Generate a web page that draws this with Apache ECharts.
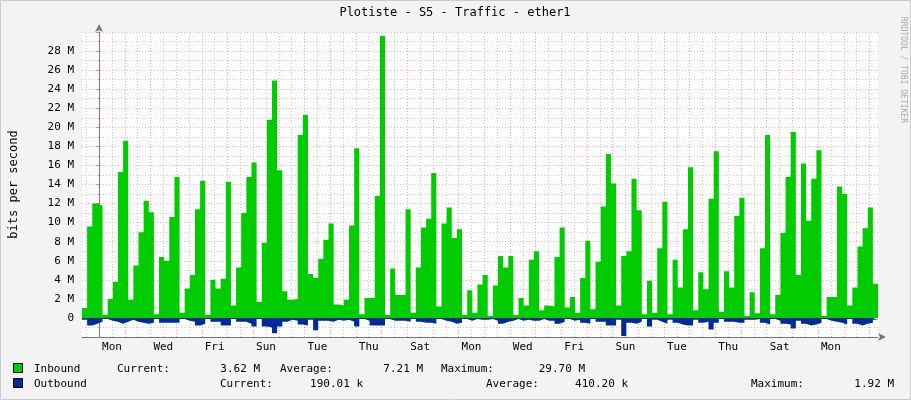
<!DOCTYPE html>
<html>
<head>
<meta charset="utf-8">
<script src="https://cdn.jsdelivr.net/npm/echarts@6/dist/echarts.min.js"></script>
<style>
  html, body { margin: 0; padding: 0; background: #f3f3f3; }
  #chart { width: 911px; height: 400px; }
</style>
</head>
<body>
<div id="chart"></div>
<script>
// 4.8 hour steps, first step starts 16 h before the first midnight (a Monday)
const stepHours = 4.8;
const startHour = -16;

// Inbound, M bits/s
const inbound = [
  1.05, 9.6, 12.0, 11.8, 0.3, 2.0, 3.8, 15.3, 18.6, 1.9, 5.5, 9.0, 12.3, 11.1, 0.4, 6.4, 6.0, 10.6, 14.8, 0.55, 3.1, 4.5, 11.4, 14.4, 0.3, 4.0,
  3.1, 4.1, 14.3, 1.3, 5.3, 11.0, 14.8, 16.3, 1.7, 7.9, 20.8, 24.9, 15.5, 2.8, 1.9, 2.0, 19.2, 21.3, 4.6, 4.2, 6.2, 8.2, 9.9, 1.4, 1.3, 1.9,
  9.7, 17.8, 0.4, 2.1, 2.1, 12.8, 29.6, 0.3, 5.2, 2.4, 2.4, 11.4, 0.55, 5.3, 9.5, 10.4, 15.2, 1.2, 9.9, 11.6, 8.4, 9.3, 0.3, 2.9, 0.55,
  3.5, 4.5, 0.2, 3.4, 6.5, 5.3, 6.5, 0.3, 2.1, 1.3, 6.1, 7.0, 0.8, 1.3, 1.2, 6.4, 9.5, 1.1, 2.2, 0.55, 4.2, 8.1, 0.9, 5.9, 11.7, 17.2,
  14.1, 1.3, 6.5, 7.0, 14.6, 11.3, 0.4, 3.9, 0.55, 7.3, 12.2, 0.4, 6.1, 3.2, 9.3, 15.8, 0.8, 4.8, 3.0, 12.5, 17.5, 0.65, 4.9, 3.2, 10.7,
  12.6, 0.2, 2.7, 0.5, 7.3, 19.2, 0.4, 2.4, 8.9, 14.8, 19.5, 4.5, 16.2, 10.2, 14.6, 17.6, 0.2, 2.2, 2.2, 13.8, 13.0, 1.3, 3.2, 7.5, 9.4, 11.6, 3.6
];

// Outbound, M bits/s (drawn below zero)
const outbound = [
  0.2, 0.8, 0.6, 0.4, 0.1, 0.3, 0.4, 0.6, 0.4, 0.2, 0.4, 0.5, 0.6, 0.5, 0.1, 0.5, 0.5, 0.5, 0.5, 0.1, 0.3, 0.4, 0.8, 0.6, 0.1, 0.4,
  0.4, 0.8, 0.8, 0.1, 0.4, 0.4, 0.6, 0.9, 0.1, 0.9, 1.0, 1.6, 0.9, 0.4, 0.2, 0.3, 0.7, 0.8, 0.2, 1.3, 0.3, 0.3, 0.4, 0.2, 0.3, 0.2,
  0.4, 0.9, 0.1, 0.3, 0.8, 0.8, 0.8, 0.1, 0.3, 0.3, 0.3, 0.4, 0.1, 0.4, 0.5, 0.5, 0.6, 0.1, 0.3, 0.4, 0.6, 0.5, 0.1, 0.3, 0.1,
  0.2, 0.2, 0.1, 0.3, 0.6, 0.4, 0.3, 0.1, 0.3, 0.2, 0.3, 0.3, 0.1, 0.3, 0.3, 0.6, 0.4, 0.1, 0.3, 0.2, 0.5, 0.6, 0.1, 0.4, 0.4, 0.8,
  0.8, 0.2, 1.9, 0.5, 0.6, 0.4, 0.1, 0.9, 0.2, 0.4, 0.6, 0.2, 0.5, 0.7, 0.8, 0.8, 0.2, 0.5, 0.4, 1.2, 0.5, 0.1, 0.4, 0.4, 0.5,
  0.5, 0.2, 0.2, 0.1, 0.5, 0.7, 0.1, 0.3, 0.6, 0.7, 1.1, 0.3, 0.6, 0.8, 0.7, 0.5, 0.1, 0.3, 0.4, 0.5, 0.7, 0.1, 0.6, 0.8, 0.6, 0.5, 0.2
];

// labels sit on the noon of every second day, starting with day 0
const dayLabels = ['Mon', 'Wed', 'Fri', 'Sun', 'Tue', 'Thu', 'Sat', 'Mon', 'Wed', 'Fri', 'Sun', 'Tue', 'Thu', 'Sat', 'Mon'];

const legendRows = [
  { name: 'Inbound', color: '#00cc00', cur: '3.62 M', avg: '7.21 M', max: '29.70 M' },
  { name: 'Outbound', color: '#002a97', cur: '190.01 k', avg: '410.20 k', max: '1.92 M' }
];

const endHour = startHour + inbound.length * stepHours;

const toSteps = (vals, sign) => {
  const pts = vals.map((v, i) => [startHour + i * stepHours, sign * v]);
  pts.push([endHour, sign * vals[vals.length - 1]]);
  return pts;
};

// vertical grid: red at midnight, grey at noon
const vLines = [];
for (let h = -12; h < endHour; h += 12) {
  const isMidnight = h % 24 === 0;
  const k = Math.floor(h / 24);
  const labelled = !isMidnight && k >= 0 && k % 2 === 0 && dayLabels[k / 2];
  vLines.push({
    xAxis: h,
    lineStyle: { color: isMidnight ? 'rgba(255,90,90,0.55)' : 'rgba(170,170,170,0.6)', type: [1, 2], width: 1 },
    label: labelled
      ? { show: true, position: 'start', formatter: dayLabels[k / 2], distance: 5, color: '#000',
          fontFamily: 'DejaVu Sans Mono', fontSize: 11 }
      : { show: false }
  });
}

const mono = 'DejaVu Sans Mono';
const txt = (x, y, text, extra) => ({
  type: 'text', x, y,
  style: Object.assign({ text, font: '11px "DejaVu Sans Mono"', fill: '#000', textVerticalAlign: 'middle' }, extra || {})
});

const graphics = [
  txt(455, 13, 'Plotiste - S5 - Traffic - ether1', { textAlign: 'center', font: '12px "DejaVu Sans Mono"' }),
  { type: 'text', x: 903, y: 70, rotation: -Math.PI / 2,
    style: { text: 'RRDTOOL / TOBI OETIKER', font: '8px "DejaVu Sans Mono"', fill: '#aaa', textAlign: 'center', textVerticalAlign: 'middle' } },
  { type: 'rect', shape: { x: 0.5, y: 0.5, width: 910, height: 399 }, style: { fill: 'none', stroke: '#ccc' } }
];
const cols = [
  [[117, 'Current:'], [260, 'cur'], [280, 'Average:'], [423, 'avg'], [441, 'Maximum:'], [585, 'max']],
  [[220, 'Current:'], [363, 'cur'], [486, 'Average:'], [628, 'avg'], [751, 'Maximum:'], [894, 'max']]
];
legendRows.forEach((r, i) => {
  const y = 369 + i * 15;
  graphics.push({ type: 'rect', shape: { x: 13.5, y: y - 5.5, width: 9, height: 9 },
    style: { fill: r.color, stroke: '#000', lineWidth: 1 } });
  graphics.push(txt(34, y, r.name));
  cols[i].forEach(([x, key]) => {
    if (key.endsWith(':')) graphics.push(txt(x, y, key));
    else graphics.push(txt(x, y, r[key], { textAlign: 'right' }));
  });
});

const chart = echarts.init(document.getElementById('chart'));
chart.setOption({
  backgroundColor: '#f3f3f3',
  animation: false,
  grid: { left: 80, right: 33, top: 32, bottom: 63, show: true, backgroundColor: '#fff', borderWidth: 0 },
  xAxis: {
    type: 'value', min: startHour, max: endHour,
    axisLine: { onZero: false, lineStyle: { color: '#777' }, symbol: ['none', 'arrow'], symbolSize: [6, 8], symbolOffset: [0, 8] },
    axisTick: { show: false }, axisLabel: { show: false }, splitLine: { show: false }
  },
  yAxis: {
    type: 'value', min: -2, max: 30, interval: 2,
    name: 'bits per second', nameLocation: 'middle', nameGap: 62, nameRotate: 90,
    nameTextStyle: { fontFamily: mono, fontSize: 12, color: '#000' },
    axisLine: { show: true, lineStyle: { color: '#777' }, symbol: ['none', 'arrow'], symbolSize: [6, 8], symbolOffset: [0, 8] },
    axisTick: { show: true, length: 3, lineStyle: { color: 'rgba(255,90,90,0.8)' } },
    axisLabel: {
      fontFamily: mono, fontSize: 11, color: '#000', margin: 8,
      formatter: v => (v === 0 ? '0' : (v < 0 || v >= 30 ? '' : v + ' M'))
    },
    splitLine: { lineStyle: { color: 'rgba(255,90,90,0.5)', type: [1, 2] } },
    minorTick: { show: true, splitNumber: 2, length: 2, lineStyle: { color: '#bbb' } },
    minorSplitLine: { show: true, lineStyle: { color: 'rgba(170,170,170,0.6)', type: [1, 2] } }
  },
  series: [
    {
      name: 'Inbound', type: 'line', step: 'end', symbol: 'none', z: 3,
      data: toSteps(inbound, 1),
      lineStyle: { width: 0 }, areaStyle: { color: '#00cc00', opacity: 1 },
      markLine: { silent: true, symbol: 'none', z: 1, data: vLines }
    },
    {
      name: 'Outbound', type: 'line', step: 'end', symbol: 'none', z: 3,
      data: toSteps(outbound, -1),
      lineStyle: { width: 0 }, areaStyle: { color: '#002a97', opacity: 1 }
    }
  ],
  graphic: graphics
});
</script>
</body>
</html>
